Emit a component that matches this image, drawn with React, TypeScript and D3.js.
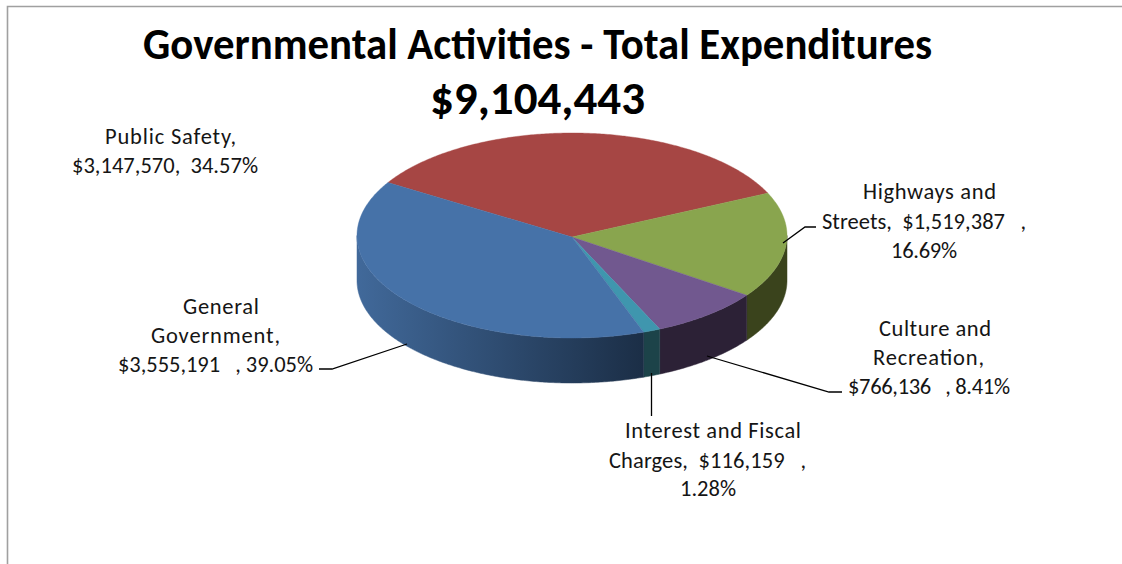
import React from "react";
import * as d3 from "d3";

const categories = ["Public Safety", "Highways and Streets", "Culture and Recreation", "Interest and Fiscal Charges", "General Government"];
const amounts = [3147570, 1519387, 766136, 116159, 3555191];
const topColors = ["#A64644", "#89A54E", "#71588F", "#3F96AE", "#4672A8"];
const sideStart = ["#6a2b2a", "#3A431C", "#2C2136", "#1C4349", "#41699A"];
const sideEnd = ["#6a2b2a", "#3A431C", "#2C2136", "#1C4349", "#1B2E46"];
const titleLines = ["Governmental Activities - Total Expenditures", "$9,104,443"];
const labelLines = [
  ["Public Safety,", "$3,147,570,  34.57%"],
  ["Highways and", "Streets,  $1,519,387   ,", "16.69%"],
  ["Culture and", "Recreation,", "$766,136   , 8.41%"],
  ["Interest and Fiscal", "Charges,  $116,159   ,", "1.28%"],
  ["General", "Government,", "$3,555,191   , 39.05%"],
];
// layout of each label line: left edge, width, baseline
const labelLeft = [[105, 72], [863, 822, 891], [879, 873, 848], [625, 609, 680], [183, 151, 118]];
const labelWidth = [[131, 186], [133, 204, 66], [112, 111, 162], [176, 197, 56], [76, 129, 195]];
const labelBase = [[144, 173], [199, 229, 258], [336, 365, 394], [438, 468, 496], [314, 343, 372]];
const leaders: [number, number][][] = [
  [],
  [[783, 243], [805, 227], [816, 227]],
  [[707, 356], [829, 392], [842, 392]],
  [[651.5, 373], [651.5, 416]],
  [[407, 344], [332, 369], [319, 369]],
];

const W = 1122, H = 564;
const cx = 572, cy = 235.5, rx = 215, ry = 102.5, depth = 45, apexY = 237;
const FONT = "Carlito, Calibri, Lato, sans-serif";

const pieGen = d3.pie<number>().sort(null).startAngle((-58.9 * Math.PI) / 180).endAngle(((360 - 58.9) * Math.PI) / 180);
const arcs = pieGen(amounts);

const px = d3.scaleLinear().domain([-1, 1]).range([cx - rx, cx + rx]);
const py = d3.scaleLinear().domain([-1, 1]).range([cy - ry, cy + ry]);
const pt = (a: number, dy = 0): [number, number] => [px(Math.sin(a)), py(-Math.cos(a)) + dy];
const line = d3.line();

function arcPts(a0: number, a1: number, dy = 0) {
  const n = Math.max(2, Math.ceil(Math.abs(a1 - a0) / 0.01));
  return d3.range(n + 1).map((i) => pt(a0 + ((a1 - a0) * i) / n, dy));
}

export default function App() {
  return (
    <svg width={W} height={H} viewBox={`0 0 ${W} ${H}`} style={{ position: "absolute", left: 0, top: 0, background: "#fff", display: "block" }}>
      <defs>
        {arcs.map((d, i) => {
          const a0 = Math.max(d.startAngle, Math.PI / 2), a1 = Math.min(d.endAngle, (3 * Math.PI) / 2);
          if (a1 <= a0) return null;
          return (
            <linearGradient key={i} id={`side${i}`} gradientUnits="userSpaceOnUse" x1={pt(a1)[0]} x2={pt(a0)[0]} y1={0} y2={0}>
              <stop offset="0" stopColor={sideStart[i]} />
              <stop offset="1" stopColor={sideEnd[i]} />
            </linearGradient>
          );
        })}
      </defs>
      <path d={`M${W},6.5H7.5V${H}`} fill="none" stroke="#a0a0a0" strokeWidth={1.6} />
      {arcs.map((d, i) => {
        const a0 = Math.max(d.startAngle, Math.PI / 2), a1 = Math.min(d.endAngle, (3 * Math.PI) / 2);
        if (a1 <= a0) return null;
        const pts = [...arcPts(a0, a1), ...arcPts(a1, a0, depth)];
        return <path key={categories[i]} d={line(pts)! + "Z"} fill={`url(#side${i})`} stroke={`url(#side${i})`} strokeWidth={0.5} />;
      })}
      {arcs.map((d, i) => {
        const pts: [number, number][] = [[cx, apexY], ...arcPts(d.startAngle, d.endAngle)];
        return <path key={categories[i]} d={line(pts)! + "Z"} fill={topColors[i]} stroke={topColors[i]} strokeWidth={0.4} />;
      })}
      {leaders.map((l, i) => l.length ? <path key={i} d={line(l)!} fill="none" stroke="#000" strokeWidth={1.3} /> : null)}
      <g fontFamily={FONT} fontWeight={700} textAnchor="start" fill="#000">
        <text x={143} y={59} fontSize={45} textLength={789} lengthAdjust="spacingAndGlyphs">{titleLines[0]}</text>
        <text x={430} y={114} fontSize={46} textLength={215} lengthAdjust="spacingAndGlyphs">{titleLines[1]}</text>
      </g>
      <g fontFamily={FONT} fontSize={22.5} textAnchor="start" fill="#151515">
        {labelLines.map((ls, i) =>
          ls.map((s, j) => (
            <text key={`${i}-${j}`} x={labelLeft[i][j]} y={labelBase[i][j]} textLength={labelWidth[i][j]} lengthAdjust="spacing" style={{ whiteSpace: "pre" }}>{s}</text>
          ))
        )}
      </g>
    </svg>
  );
}
